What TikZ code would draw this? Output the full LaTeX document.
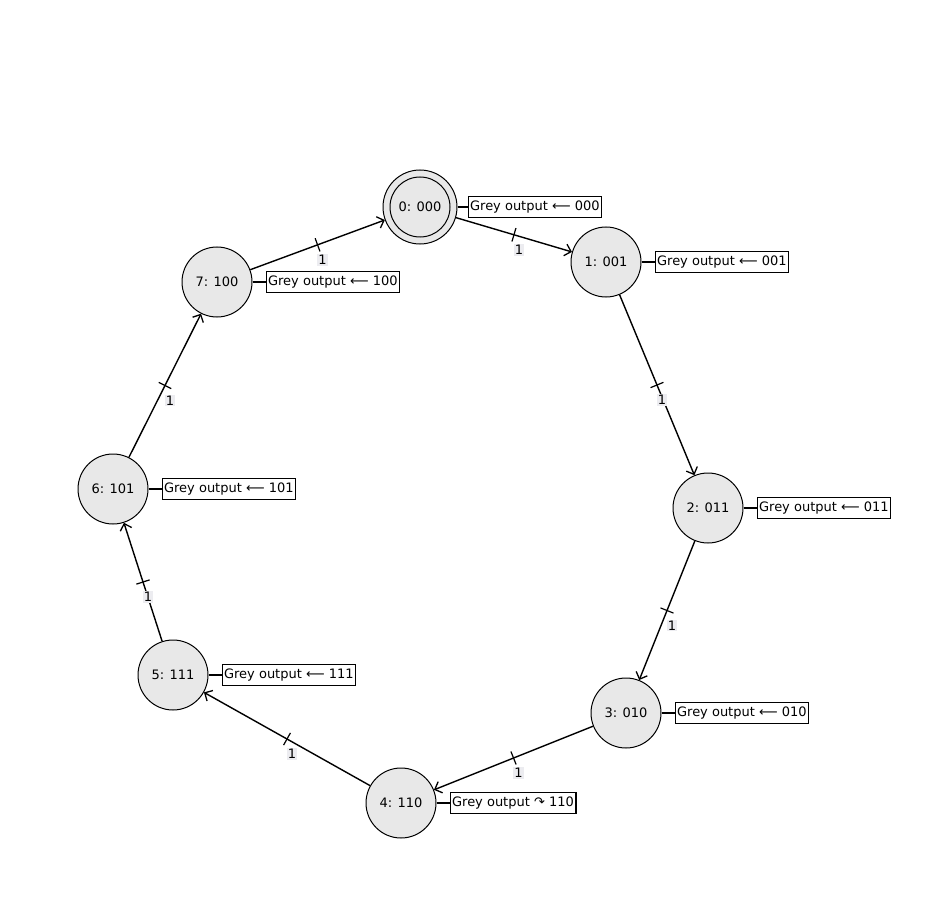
\documentclass[tikz,border=0pt]{standalone}
\usepackage{fontspec}
\setmainfont{DejaVu Sans}
\usetikzlibrary{arrows.meta,decorations.markings,positioning}
\begin{document}
\begin{tikzpicture}[x=1pt,y=-1pt,
  font=\fontsize{13}{15}\selectfont,
  state/.style={circle,draw,line width=1pt,fill=stategrey,minimum size=70pt,inner sep=0pt},
  outbox/.style={draw,line width=1.2pt,fill=white,inner sep=2pt,minimum height=21pt},
  link/.style={line width=1.2pt},
  edge/.style={line width=1.4pt,-{Straight Barb[length=6pt,width=12pt,line width=1.3pt]},
    postaction={decorate},
    decoration={markings,mark=at position 0.5 with {\draw[arrows=-,line width=1.2pt] (0,-7pt)--(0,7pt);}}},
  lbl/.style={midway,xshift=5pt,yshift=-15pt,fill=lblgrey,inner sep=1pt}]
\definecolor{stategrey}{HTML}{E8E8E8}
\definecolor{lblgrey}{HTML}{ECECF0}
\useasboundingbox (0,0) rectangle (940,912);
\fill[white] (0,0) rectangle (940,912);
% states
\node[state,minimum size=74pt] (n0) at (420,207) {};
\node[circle,draw,line width=1pt,minimum size=60pt,inner sep=0pt] (n0i) at (n0) {0: 000};
\node[state] (n1) at (606,262) {1: 001};
\node[state] (n2) at (708,508) {2: 011};
\node[state] (n3) at (626,713) {3: 010};
\node[state] (n4) at (401,803) {4: 110};
\node[state] (n5) at (173,675) {5: 111};
\node[state] (n6) at (113,489) {6: 101};
\node[state] (n7) at (217,282) {7: 100};
% output boxes
\node[outbox,right=10pt of n0] (o0) {Grey output ⟵ 000};
\node[outbox,right=13pt of n1] (o1) {Grey output ⟵ 001};
\node[outbox,right=13pt of n2] (o2) {Grey output ⟵ 011};
\node[outbox,right=13pt of n3] (o3) {Grey output ⟵ 010};
\node[outbox,right=13pt of n4] (o4) {Grey output ↷ 110};
\node[outbox,right=13pt of n5] (o5) {Grey output ⟵ 111};
\node[outbox,right=13pt of n6] (o6) {Grey output ⟵ 101};
\node[outbox,right=13pt of n7] (o7) {Grey output ⟵ 100};
\foreach \i in {0,...,7}{\draw[link] (n\i.east) -- (o\i.west);}
% transitions
\draw[edge] (n0) -- node[lbl]{1} (n1);
\draw[edge] (n1) -- node[lbl]{1} (n2);
\draw[edge] (n2) -- node[lbl]{1} (n3);
\draw[edge] (n3) -- node[lbl]{1} (n4);
\draw[edge] (n4) -- node[lbl]{1} (n5);
\draw[edge] (n5) -- node[lbl]{1} (n6);
\draw[edge] (n6) -- node[lbl]{1} (n7);
\draw[edge] (n7) -- node[lbl]{1} (n0);
\end{tikzpicture}
\end{document}
